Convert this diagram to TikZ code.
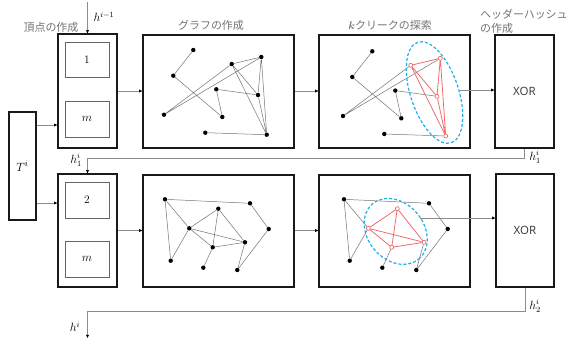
\documentclass[tikz,border=0pt]{standalone}
\usepackage{fontspec}
\setsansfont{Noto Sans}
\newfontfamily\jp{Noto Sans CJK JP}
\usetikzlibrary{arrows.meta,shapes.geometric}
\definecolor{clqblue}{HTML}{1FAEE8}
\definecolor{clqred}{HTML}{F26B6B}
\newcommand{\mygtop}[3]{%
 \node[dot] (#1a) at (193.3,50) {};
 \node[dot] (#1b) at (173.3,75.7) {};
 \node[#2] (#1c) at (231.7,64) {};
 \node[#2] (#1d) at (261.3,57) {};
 \node[dot] (#1e) at (216.3,89.3) {};
 \node[#2] (#1f) at (258,95) {};
 \node[dot] (#1g) at (164,114.7) {};
 \node[dot] (#1h) at (222.3,117) {};
 \node[dot] (#1i) at (205.3,132.7) {};
 \node[#2] (#1j) at (266.7,134.7) {};
 \draw[gedge] (#1a)--(#1b) (#1b)--(#1h) (#1g)--(#1c) (#1g)--(#1d) (#1e)--(#1f) (#1e)--(#1h) (#1i)--(#1j);
 \draw[#3] (#1c)--(#1d) (#1c)--(#1f) (#1c)--(#1j) (#1d)--(#1f) (#1d)--(#1j) (#1f)--(#1j);
}
\newcommand{\mygbot}[3]{%
 \node[dot] (#1A) at (165,199.3) {};
 \node[dot] (#1B) at (250,203.3) {};
 \node[#2] (#1C) at (218.3,208.7) {};
 \node[#2] (#1D) at (189.3,228.3) {};
 \node[dot] (#1E) at (268.7,229) {};
 \node[#2] (#1F) at (245,242.3) {};
 \node[#2] (#1G) at (212.7,247.3) {};
 \node[dot] (#1H) at (170.7,260.7) {};
 \node[dot] (#1I) at (203.3,267.7) {};
 \node[dot] (#1J) at (237.3,270) {};
 \draw[gedge] (#1A)--(#1B) (#1A)--(#1D) (#1A)--(#1H) (#1B)--(#1E) (#1E)--(#1J) (#1D)--(#1H) (#1G)--(#1I) (#1F)--(#1J);
 \draw[#3] (#1D)--(#1C) (#1D)--(#1F) (#1D)--(#1G) (#1C)--(#1F) (#1C)--(#1G) (#1G)--(#1F);
}
\begin{document}
\begin{tikzpicture}[x=1bp,y=-1bp,
 outerbox/.style={draw=black!90, line width=1.3bp, inner sep=0},
 innerbox/.style={draw=black!60, line width=0.6bp, inner sep=0, minimum width=44bp, minimum height=35bp, font=\fontsize{11.5}{13}\selectfont},
 conn/.style={draw=black!45, line width=0.75bp, -{Triangle[length=3.2bp,width=2.8bp,color=black]}},
 dot/.style={circle, fill=black, inner sep=0, minimum size=4.4bp},
 rdot/.style={circle, draw=clqred, fill=white, line width=0.7bp, inner sep=0, minimum size=4bp},
 gedge/.style={draw=black!55, line width=0.5bp},
 redge/.style={draw=clqred, line width=0.8bp},
 clq/.style={ellipse, draw=clqblue, dash pattern=on 3bp off 2bp, line width=1.2bp, inner sep=0},
 jplabel/.style={text=black!55, font=\jp\fontsize{11}{14}\selectfont, inner sep=0},
 mlabel/.style={font=\fontsize{12}{14}\selectfont, inner sep=0},
 xorbox/.style={outerbox, text=black!75, font=\sffamily\fontsize{11.5}{13}\selectfont}
]
\useasboundingbox (0,0) rectangle (574,340);
% top row boxes
\node[outerbox, minimum width=59bp, minimum height=114bp] (vb1) at (87.5,91) {};
\node[innerbox] (in1a) at (87,60) {1};
\node[innerbox, minimum height=36bp] (in1b) at (87,119) {$m$};
\node[outerbox, minimum width=27bp, minimum height=108bp, font=\fontsize{12.5}{14}\selectfont] (T) at (22.5,166) {$T^i$};
\node[outerbox, minimum width=151bp, minimum height=113bp] (g1) at (218.5,91.5) {};
\node[outerbox, minimum width=151bp, minimum height=113bp] (k1) at (394.5,91.5) {};
\node[xorbox, minimum width=59bp, minimum height=113bp] (xor1) at (524.5,91.5) {XOR};
% bottom row boxes
\node[outerbox, minimum width=59bp, minimum height=113bp] (vb2) at (87.5,230.5) {};
\node[innerbox, minimum height=36bp] (in2a) at (87,200) {2};
\node[innerbox, minimum height=36bp] (in2b) at (87,259) {$m$};
\node[outerbox, minimum width=151bp, minimum height=112bp] (g2) at (218.5,231) {};
\node[outerbox, minimum width=151bp, minimum height=112bp] (k2) at (394.5,231) {};
\node[xorbox, minimum width=58bp, minimum height=113bp] (xor2) at (525,230.5) {XOR};
% graphs
\mygtop{g1}{dot}{gedge}
\begin{scope}[shift={(179,1.3)}]
\mygtop{k1}{rdot}{redge}
\end{scope}
\mygbot{g2}{dot}{gedge}
\begin{scope}[shift={(179,0)}]
\mygbot{k2}{rdot}{redge}
\end{scope}
% clique ellipses
\node[clq, minimum width=106bp, minimum height=48bp, rotate=-71.6] (ell1) at (434.5,92.5) {};
\node[clq, minimum width=72bp, minimum height=56bp, rotate=-50] (ell2) at (395.7,231.4) {};
% labels
\node[jplabel] (lv) at (51,27) {頂点の作成};
\node[jplabel] (lg) at (211,25.5) {グラフの作成};
\node[jplabel] (lk) at (390,25) {{\boldmath$k$}クリークの探索};
\node[jplabel, align=left, anchor=north west] (lx) at (480,9) {ヘッダーハッシュ\\の作成};
\node[mlabel] (lhp) at (104,17) {$h^{i-1}$};
\node[mlabel] (lh1a) at (535,157) {$h_1^i$};
\node[mlabel] (lh1b) at (76,160) {$h_1^i$};
\node[mlabel] (lh2) at (535,306) {$h_2^i$};
\node[mlabel] (lh) at (75,327) {$h^i$};
% connectors
\coordinate (hin) at (87.5,2);
\draw[conn] (hin) -- (vb1.north);
\draw[conn] (T.east |- 0,125) -- (vb1.west |- 0,125);
\draw[conn] (T.east |- 0,203) -- (vb2.west |- 0,203);
\draw[conn] (vb1.east) -- (vb1.east -| g1.west);
\draw[conn] (g1.east |- vb1.east) -- (k1.west |- vb1.east);
\coordinate (e1out) at (459.5,90);
\draw[conn] (e1out) -- (e1out -| xor1.west);
\draw[conn] (xor1.south) -- ++(0,10) -| (vb2.north);
\draw[conn] (vb2.east) -- (vb2.east -| g2.west);
\draw[conn] (g2.east |- vb2.east) -- (k2.west |- vb2.east);
\coordinate (e2out) at (420,218);
\draw[conn] (e2out) -- (e2out -| xor2.west);
\coordinate (hout) at (87.5,338);
\draw[conn] (xor2.south) -- ++(0,23.5) -| (hout);
\end{tikzpicture}
\end{document}
